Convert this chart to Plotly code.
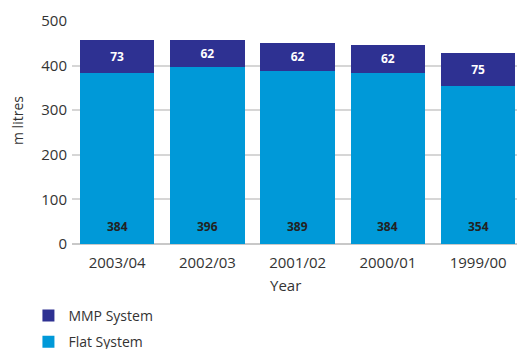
import plotly.graph_objects as go

# Water use by charging system, million litres
years = ["2003/04", "2002/03", "2001/02", "2000/01", "1999/00"]
flat_system = [384, 396, 389, 384, 354]
mmp_system = [73, 62, 62, 62, 75]

y_ticks = [0, 100, 200, 300, 400, 500]

FLAT_COLOR = "#0099d8"
MMP_COLOR = "#2e3192"
FONT = "Open Sans"
TEXT_COLOR = "#333333"

fig = go.Figure()

fig.add_trace(go.Bar(
    x=years, y=flat_system, name="Flat System",
    legendgroup="flat", legendrank=2,
    marker=dict(color=FLAT_COLOR, line=dict(width=0)),
    hoverinfo="x+y+name",
))
fig.add_trace(go.Bar(
    x=years, y=mmp_system, name="MMP System",
    legendgroup="mmp", legendrank=1,
    marker=dict(color=MMP_COLOR, line=dict(width=0)),
    text=[str(v) for v in mmp_system],
    textposition="inside", insidetextanchor="middle",
    textfont=dict(family=FONT, size=12, color="white", weight="bold"),
    textangle=0,
))

# Flat-system values sit near the foot of each bar
for yr, v in zip(years, flat_system):
    fig.add_annotation(
        x=yr, y=40, text=str(v), showarrow=False,
        font=dict(family=FONT, size=12, color="#222222", weight="bold"),
    )

# Axis titles
fig.add_annotation(
    xref="paper", yref="paper", x=(285 - 72) / 445, y=(244 - 285) / 223,
    text="Year", showarrow=False, xanchor="center", yanchor="middle",
    font=dict(family=FONT, size=15, color=TEXT_COLOR),
)
fig.add_annotation(
    xref="paper", yref="paper", x=(18 - 72) / 445, y=(244 - 121) / 223,
    text="m litres", showarrow=False, textangle=-90,
    xanchor="center", yanchor="middle",
    font=dict(family=FONT, size=14, color=TEXT_COLOR),
)

fig.update_layout(
    width=517, height=349,
    barmode="stack", bargap=0.175,
    margin=dict(l=72, r=0, t=21, b=105, autoexpand=False),
    paper_bgcolor="white", plot_bgcolor="white",
    font=dict(family=FONT, size=14, color=TEXT_COLOR),
    showlegend=True,
    legend=dict(
        xref="container", yref="container",
        x=0.055, y=1 - 300 / 349, xanchor="left", yanchor="top",
        font=dict(family=FONT, size=14, color=TEXT_COLOR),
        traceorder="grouped",
        tracegroupgap=5, itemwidth=30,
    ),
    xaxis=dict(
        range=[-0.5, 4.43], automargin=False,
        showgrid=False, showline=False, ticks="",
        tickfont=dict(size=15), ticklabelstandoff=8,
    ),
    yaxis=dict(
        range=[0, 500], tickvals=y_ticks, automargin=False,
        showgrid=True, gridcolor="#d6d6d6", gridwidth=1.5,
        zeroline=True, zerolinecolor="#c8c8c8", zerolinewidth=2,
        ticks="", ticklabelstandoff=4,
        tickfont=dict(size=15),
    ),
)

fig.write_html("out.html")
